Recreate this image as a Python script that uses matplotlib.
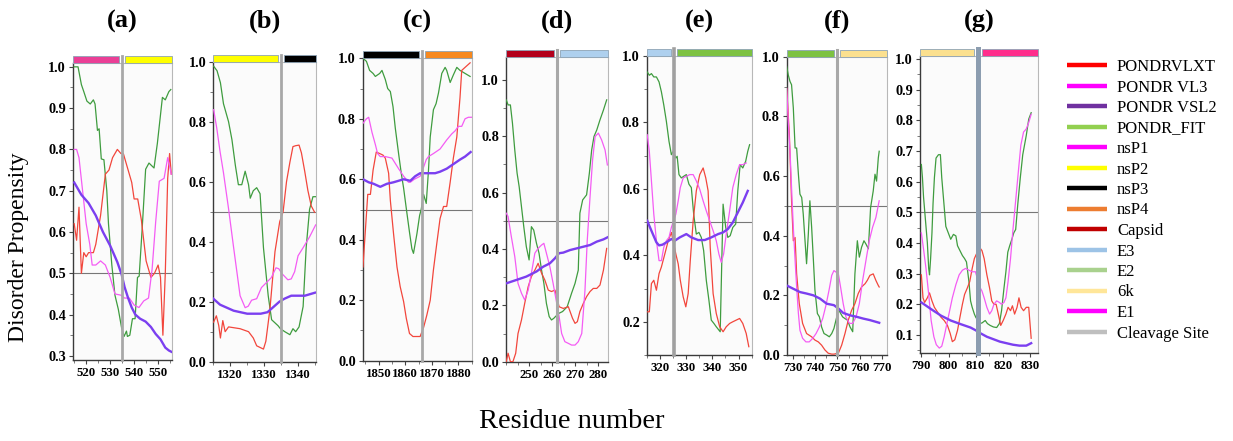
import matplotlib
matplotlib.use('Agg')
import matplotlib.pyplot as plt
from matplotlib.lines import Line2D
from matplotlib.patches import Rectangle
from matplotlib.ticker import MultipleLocator
from matplotlib.transforms import blended_transform_factory

plt.rcParams['font.family'] = ['Liberation Serif', 'DejaVu Serif']

# ---- data: (residue, disorder score) ----
# order inside each panel: PONDR_FIT, PONDR VLXT, PONDR VL3, PONDR VSL2

# (a) nsP1 / nsP2
A_FIT = [(515, 1.0), (516.6, 1.0), (518, 0.957), (519, 0.94), (520.3, 0.917), (521.7, 0.91), (523, 0.92),
         (523.7, 0.91), (524.7, 0.846), (525.4, 0.85), (526.3, 0.777), (527.4, 0.775), (528.6, 0.70),
         (529.3, 0.62), (530.7, 0.52), (532, 0.447), (533.4, 0.413), (534.8, 0.367), (535.8, 0.347),
         (536.8, 0.36), (537.2, 0.347), (538.2, 0.35), (539.3, 0.39), (540.4, 0.39), (541.4, 0.49),
         (542.1, 0.493), (543.4, 0.612), (544.8, 0.752), (546.2, 0.767), (548.3, 0.755), (549.7, 0.815),
         (551.8, 0.926), (553, 0.92), (554.5, 0.94), (555.3, 0.945)]
A_VLXT = [(515, 0.62), (516, 0.58), (517, 0.66), (518, 0.5), (519, 0.55), (520, 0.54), (521, 0.55), (523, 0.55),
          (524, 0.57), (526, 0.64), (528, 0.74), (529.5, 0.75), (531, 0.78), (533, 0.8), (534.5, 0.79),
          (535.5, 0.79), (537, 0.76), (539, 0.72), (540, 0.68), (541.5, 0.68), (543, 0.63), (545, 0.53),
          (547, 0.49), (548.5, 0.5), (550, 0.52), (551, 0.49), (552, 0.35), (553, 0.5), (554, 0.73),
          (554.8, 0.79), (555.5, 0.74)]
A_VL3 = [(515, 0.8), (516, 0.8), (517, 0.78), (518.5, 0.7), (520, 0.62), (521.5, 0.57), (522.5, 0.52), (524, 0.52),
         (526, 0.53), (528, 0.52), (530, 0.49), (532, 0.45), (534.5, 0.447), (536, 0.44), (538, 0.44),
         (540, 0.423), (542, 0.417), (544, 0.433), (546, 0.44), (547.5, 0.51), (549, 0.625), (550.5, 0.723),
         (552.5, 0.73), (554, 0.78), (555.5, 0.74)]
A_VSL2 = [(515, 0.72), (518, 0.69), (521, 0.67), (524, 0.64), (527, 0.6), (530, 0.567), (533, 0.527),
          (534.8, 0.497), (536, 0.467), (537.5, 0.44), (539, 0.417), (540.5, 0.4), (542.5, 0.39), (544.8, 0.383),
          (547, 0.37), (549, 0.353), (551, 0.34), (553, 0.32), (554.5, 0.313), (555.5, 0.31)]

# (b) nsP2 / nsP3
B_FIT = [(1315.1, 0.985), (1316.1, 0.97), (1317.1, 0.93), (1318, 0.86), (1319.5, 0.8), (1320.5, 0.74),
         (1321.5, 0.655), (1322.4, 0.59), (1323.4, 0.59), (1324.4, 0.635), (1325.4, 0.59), (1325.9, 0.545),
         (1326.8, 0.57), (1327.8, 0.58), (1328.8, 0.56), (1329.8, 0.38), (1331.2, 0.22), (1332.2, 0.14),
         (1334.1, 0.12), (1334.8, 0.11), (1336.1, 0.1), (1337.6, 0.09), (1338.5, 0.11), (1339.3, 0.1),
         (1340.3, 0.116), (1341.5, 0.184), (1342.4, 0.38), (1343.4, 0.508), (1344.4, 0.55), (1345.2, 0.55)]
B_VLXT = [(1315.1, 0.132), (1315.9, 0.153), (1316.6, 0.121), (1317.1, 0.079), (1317.8, 0.137), (1318.5, 0.1),
          (1319.5, 0.116), (1322.9, 0.11), (1325.4, 0.1), (1326.8, 0.079), (1327.8, 0.053), (1329.8, 0.042),
          (1330.5, 0.068), (1331.7, 0.174), (1333.2, 0.367), (1334.6, 0.467), (1335.6, 0.5), (1336.6, 0.6),
          (1337.6, 0.665), (1338.5, 0.717), (1339.3, 0.72), (1340.3, 0.722), (1341, 0.696), (1342, 0.633),
          (1342.9, 0.571), (1343.9, 0.519), (1344.9, 0.498)]
B_VL3 = [(1315.1, 0.84), (1316, 0.78), (1317, 0.70), (1318, 0.63), (1319.5, 0.51), (1321, 0.38), (1322.9, 0.22),
         (1324.4, 0.18), (1325.3, 0.185), (1326.3, 0.205), (1327.8, 0.21), (1329.2, 0.247), (1330.6, 0.263),
         (1332.1, 0.28), (1333.5, 0.313), (1334.3, 0.31), (1335.3, 0.293), (1337, 0.273), (1338, 0.276),
         (1339, 0.3), (1340, 0.353), (1341.5, 0.38), (1343.4, 0.416), (1345.2, 0.456)]
B_VSL2 = [(1315, 0.21), (1317, 0.19), (1319, 0.18), (1321, 0.17), (1323, 0.165), (1325, 0.16), (1327, 0.16),
          (1329, 0.16), (1331, 0.165), (1333, 0.185), (1334.5, 0.2), (1336, 0.21), (1338, 0.22), (1340, 0.22),
          (1342, 0.22), (1345, 0.23)]

# (c) nsP3 / nsP4
C_FIT = [(1844.1, 1.0), (1845.4, 0.99), (1846.6, 0.96), (1847.9, 0.95), (1848.75, 0.94), (1850.4, 0.95),
         (1851.25, 0.96), (1852.5, 0.93), (1853.4, 0.9), (1854.4, 0.89), (1855.4, 0.84), (1856.25, 0.77),
         (1857.5, 0.685), (1858.5, 0.62), (1859.4, 0.57), (1860.6, 0.49), (1861.6, 0.425), (1862.5, 0.37),
         (1863.1, 0.355), (1864.4, 0.42), (1865.4, 0.48), (1866, 0.5), (1866.9, 0.55), (1867.9, 0.52),
         (1868.75, 0.63), (1869.4, 0.74), (1870.6, 0.83), (1871.6, 0.85), (1872.5, 0.885), (1873.75, 0.95),
         (1875, 0.97), (1875.6, 0.96), (1876.9, 0.92), (1878.1, 0.945), (1879.4, 0.97), (1880.6, 0.96),
         (1882.5, 0.95), (1884.4, 0.94)]
C_VLXT = [(1844.1, 0.31), (1845, 0.43), (1845.9, 0.55), (1846.9, 0.55), (1847.9, 0.63), (1849.1, 0.69),
          (1850.4, 0.685), (1851.6, 0.68), (1852.5, 0.67), (1853.75, 0.62), (1854.4, 0.53), (1855.6, 0.42),
          (1856.9, 0.31), (1858.1, 0.245), (1859.4, 0.195), (1860.4, 0.14), (1861.6, 0.09), (1862.9, 0.08),
          (1863.75, 0.08), (1865.6, 0.08), (1866.9, 0.11), (1868.1, 0.15), (1869.4, 0.2), (1870.6, 0.3),
          (1871.9, 0.39), (1873.1, 0.47), (1874.4, 0.51), (1875.6, 0.51), (1876.9, 0.59), (1878.1, 0.67),
          (1879.4, 0.74), (1880.6, 0.87), (1881.25, 0.96), (1882.5, 0.97), (1884.4, 0.985)]
C_VL3 = [(1844.1, 0.785), (1845.4, 0.8), (1846.25, 0.805), (1847.5, 0.755), (1848.75, 0.715), (1849.6, 0.685),
         (1850.6, 0.675), (1852.5, 0.675), (1855, 0.67), (1857.5, 0.635), (1859.4, 0.61), (1861.25, 0.59),
         (1861.9, 0.59), (1863.4, 0.6), (1865.6, 0.61), (1866.9, 0.64), (1867.9, 0.665), (1868.75, 0.675),
         (1870.6, 0.685), (1873.1, 0.7), (1875.6, 0.73), (1877.5, 0.75), (1878.75, 0.76), (1880, 0.775),
         (1881.25, 0.775), (1882.5, 0.8), (1883.75, 0.805), (1885, 0.805)]
C_VSL2 = [(1844.1, 0.6), (1846.25, 0.59), (1848.1, 0.585), (1850.6, 0.575), (1853.1, 0.585), (1855.6, 0.59),
          (1857.5, 0.595), (1859.4, 0.6), (1861.9, 0.595), (1863.75, 0.61), (1865.6, 0.62), (1867.1, 0.62),
          (1869.1, 0.62), (1871.25, 0.62), (1873.1, 0.625), (1875.6, 0.635), (1878.1, 0.65), (1880.6, 0.665),
          (1882.5, 0.675), (1884.6, 0.69)]

# (d) Capsid / E3
D_FIT = [(240.1, 0.929), (240.9, 0.911), (241.9, 0.911), (242.8, 0.846), (243.8, 0.751), (244.8, 0.669),
         (245.7, 0.621), (246.7, 0.55), (247.7, 0.479), (248.8, 0.408), (250, 0.361), (251, 0.479),
         (252, 0.467), (253.2, 0.42), (254.3, 0.385), (255.4, 0.325), (256.4, 0.278), (257.5, 0.207),
         (258.7, 0.16), (259.7, 0.148), (260.7, 0.154), (261.4, 0.16), (263, 0.172), (264.5, 0.178),
         (266.5, 0.195), (268.4, 0.243), (269.9, 0.278), (271.3, 0.325), (272, 0.527), (273.2, 0.574),
         (274.9, 0.592), (276.1, 0.669), (277.1, 0.751), (278.1, 0.799), (279.3, 0.822), (280.7, 0.858),
         (282.2, 0.893), (283.6, 0.929)]
D_VLXT = [(240.1, 0.0), (240.9, 0.03), (241.9, 0.0), (243.0, 0.0), (244.2, 0.03), (245.2, 0.1), (246.7, 0.148),
          (248.1, 0.207), (249.6, 0.266), (251, 0.302), (252.5, 0.325), (253.9, 0.349), (255.4, 0.314),
          (256.8, 0.29), (258.3, 0.254), (259.7, 0.249), (261.2, 0.254), (263, 0.195), (264.8, 0.189),
          (267, 0.195), (268.8, 0.154), (269.9, 0.136), (270.9, 0.142), (272, 0.178), (273.5, 0.207),
          (274.9, 0.231), (276.4, 0.249), (277.8, 0.26), (279.3, 0.26), (280.7, 0.272), (282.2, 0.325),
          (283.6, 0.402)]
D_VL3 = [(240.1, 0.527), (240.9, 0.515), (242.3, 0.444), (243.8, 0.373), (245.2, 0.278), (246.7, 0.243),
         (248.1, 0.219), (249.6, 0.254), (251, 0.314), (252.5, 0.385), (253.9, 0.402), (255.4, 0.414),
         (256.4, 0.42), (257.5, 0.385), (259, 0.337), (260.4, 0.278), (263, 0.16), (264.1, 0.1), (265.5, 0.071),
         (267, 0.065), (268.4, 0.059), (269.9, 0.059), (271.3, 0.071), (272.8, 0.1), (274.2, 0.254),
         (275.2, 0.432), (276.4, 0.586), (277.5, 0.716), (278.6, 0.799), (280, 0.811), (281.4, 0.787),
         (282.9, 0.751), (283.9, 0.698)]
D_VSL2 = [(240.1, 0.278), (244.5, 0.29), (248.8, 0.302), (253.2, 0.32), (256.1, 0.337), (259, 0.349),
          (261.2, 0.367), (263, 0.385), (264.8, 0.387), (267.7, 0.396), (270.6, 0.402), (273.5, 0.408),
          (276.4, 0.414), (279.3, 0.426), (282.2, 0.434), (283.9, 0.441)]

# (e) E3 / E2
E_FIT = [(315.2, 0.952), (316.0, 0.942), (316.8, 0.947), (317.7, 0.937), (318.7, 0.937), (319.7, 0.922),
         (320.6, 0.892), (321.5, 0.853), (322.5, 0.803), (323.5, 0.743), (324.4, 0.703), (325.1, 0.713),
         (326.1, 0.693), (326.6, 0.698), (327.3, 0.643), (328.2, 0.633), (329.1, 0.638), (330.1, 0.643),
         (331.1, 0.614), (332, 0.604), (332.9, 0.524), (333.9, 0.464), (334.9, 0.469), (335.8, 0.454),
         (336.7, 0.414), (337.7, 0.325), (338.7, 0.265), (339.6, 0.205), (340.6, 0.195), (341.5, 0.185),
         (343, 0.17), (344.1, 0.554), (345.1, 0.484), (345.9, 0.454), (346.8, 0.459), (347.8, 0.484),
         (348.9, 0.494), (349.7, 0.594), (350.6, 0.673), (351.6, 0.663), (352.7, 0.683), (353.5, 0.713),
         (354.2, 0.733)]
E_VLXT = [(315.2, 0.23), (316.0, 0.23), (316.8, 0.315), (317.7, 0.325), (318.7, 0.295), (319.7, 0.345),
          (320.6, 0.365), (321.9, 0.404), (323.2, 0.444), (324.4, 0.469), (326.1, 0.404), (327, 0.374),
          (327.8, 0.325), (328.9, 0.275), (329.9, 0.245), (330.8, 0.285), (331.6, 0.384), (332.7, 0.504),
          (333.9, 0.594), (335.2, 0.643), (336.5, 0.663), (337.5, 0.633), (338.4, 0.594), (339.2, 0.424),
          (340.3, 0.285), (341.5, 0.225), (342.8, 0.185), (344.1, 0.17), (345.3, 0.185), (346.6, 0.195),
          (347.8, 0.2), (349.1, 0.205), (350.4, 0.21), (351.6, 0.195), (352.9, 0.165), (353.9, 0.125)]
E_VL3 = [(315.2, 0.763), (316, 0.713), (316.8, 0.624), (317.7, 0.524), (318.7, 0.444), (319.7, 0.384),
         (320.6, 0.384), (321.5, 0.424), (322.5, 0.444), (323.5, 0.454), (324.4, 0.484), (326.1, 0.524),
         (327, 0.564), (327.8, 0.604), (328.9, 0.633), (330.1, 0.638), (331.4, 0.643), (332.7, 0.643),
         (333.9, 0.624), (335.2, 0.599), (336.5, 0.564), (337.7, 0.534), (339, 0.504), (340.3, 0.474),
         (341.5, 0.444), (342.5, 0.404), (343.4, 0.379), (344.3, 0.404), (345.3, 0.464), (346.6, 0.534),
         (347.8, 0.604), (349.1, 0.643), (350.4, 0.673), (351.6, 0.673), (352.9, 0.678)]
E_VSL2 = [(315.2, 0.504), (316.8, 0.474), (318.7, 0.439), (319.7, 0.43), (321, 0.432), (322.5, 0.439),
          (324.4, 0.449), (325.7, 0.444), (327.6, 0.454), (330.1, 0.464), (332, 0.454), (334.6, 0.446),
          (337.1, 0.446), (339.6, 0.454), (342.2, 0.464), (344.1, 0.469), (345.9, 0.479), (347.8, 0.499),
          (349.7, 0.529), (351.6, 0.559), (353.5, 0.594)]

# (f) E2 / 6k
F_FIT = [(727, 0.967), (727.7, 0.939), (728.5, 0.917), (729.2, 0.906), (730, 0.828), (730.8, 0.694),
         (731.5, 0.694), (732.3, 0.606), (733, 0.539), (733.8, 0.528), (734.5, 0.472), (735.3, 0.383),
         (736, 0.306), (736.8, 0.406), (737.5, 0.517), (738.3, 0.428), (739.1, 0.317), (739.8, 0.217),
         (740.9, 0.139), (741.8, 0.128), (742.8, 0.094), (743.9, 0.072), (745.1, 0.067), (746.3, 0.061),
         (747.4, 0.072), (748.4, 0.089), (750.4, 0.15), (751.1, 0.144), (752.3, 0.128), (753.4, 0.122),
         (754.5, 0.117), (755.7, 0.094), (756.9, 0.078), (757.9, 0.272), (759, 0.383), (759.9, 0.328),
         (760.9, 0.361), (762, 0.383), (762.9, 0.372), (764, 0.356), (765, 0.494), (766.2, 0.55),
         (767, 0.606), (767.7, 0.583), (768.5, 0.661), (768.9, 0.683)]
F_VLXT = [(727, 0.894), (728.2, 0.739), (729.2, 0.517), (730, 0.383), (730.8, 0.394), (731.5, 0.272),
          (732.7, 0.172), (734.2, 0.106), (736, 0.072), (738.3, 0.061), (739.8, 0.05), (741.3, 0.044),
          (742.8, 0.033), (744.3, 0.017), (745.8, 0.006), (747.4, 0.003), (748.4, 0.003), (750.4, 0.006),
          (751.9, 0.033), (753.4, 0.072), (754.9, 0.117), (756.4, 0.15), (757.9, 0.172), (759.4, 0.206),
          (760.9, 0.228), (762.5, 0.239), (763.5, 0.25), (764.7, 0.267), (766.2, 0.272), (767.4, 0.25),
          (768.5, 0.233), (768.9, 0.228)]
F_VL3 = [(727, 0.894), (727.7, 0.783), (728.5, 0.683), (729.2, 0.561), (730, 0.428), (730.8, 0.317),
         (731.5, 0.228), (732.3, 0.139), (733, 0.083), (734.2, 0.056), (735.7, 0.044), (737.2, 0.044),
         (738.8, 0.056), (740.3, 0.072), (741.8, 0.094), (743.3, 0.122), (744.8, 0.167), (746.3, 0.222),
         (747.4, 0.267), (748.4, 0.283), (750.4, 0.272), (751.4, 0.228), (752.6, 0.172), (753.8, 0.128),
         (755.4, 0.106), (756.9, 0.106), (758.4, 0.128), (759.9, 0.172), (761.4, 0.25), (762.9, 0.317),
         (764.4, 0.383), (765.9, 0.428), (767.4, 0.461), (768.9, 0.517)]
F_VSL2 = [(727, 0.233), (730, 0.222), (733, 0.211), (736, 0.206), (739.1, 0.2), (742.1, 0.189), (745.1, 0.172),
          (748.4, 0.167), (750.4, 0.156), (752.6, 0.141), (755.7, 0.133), (758.7, 0.128), (761.7, 0.122),
          (764.7, 0.117), (768.9, 0.108)]

# (g) 6k / E1
G_FIT = [(790, 0.656), (790.4, 0.613), (790.8, 0.55), (791.4, 0.486), (792.2, 0.401), (792.7, 0.317),
         (793.0, 0.296), (793.4, 0.349), (793.9, 0.433), (794.3, 0.529), (794.8, 0.613), (795.4, 0.677),
         (796.3, 0.688), (797.0, 0.688), (797.5, 0.613), (798.2, 0.539), (799.0, 0.454), (799.9, 0.433),
         (800.8, 0.412), (801.8, 0.428), (802.7, 0.423), (803.3, 0.391), (804.2, 0.375), (805.1, 0.359),
         (805.9, 0.349), (806.6, 0.338), (807.5, 0.274), (808.1, 0.211), (808.7, 0.19), (809.5, 0.168),
         (810.0, 0.158), (811.4, 0.137), (812.3, 0.139), (813.5, 0.147), (814.3, 0.137), (815.3, 0.131),
         (816.5, 0.126), (817.7, 0.124), (818.7, 0.137), (819.5, 0.179), (820.4, 0.253), (821.1, 0.306),
         (821.8, 0.37), (822.5, 0.391), (823.3, 0.412), (824.0, 0.433), (824.7, 0.444), (825.5, 0.529),
         (826.4, 0.613), (827.3, 0.688), (828.6, 0.751), (829.5, 0.804), (830.4, 0.825)]
G_VLXT = [(790, 0.296), (790.6, 0.221), (791.2, 0.206), (792.2, 0.221), (793.0, 0.237), (793.9, 0.211),
          (794.8, 0.19), (796.0, 0.174), (797.2, 0.158), (798.4, 0.147), (799.6, 0.131), (800.6, 0.105),
          (801.4, 0.078), (802.3, 0.084), (803.3, 0.115), (804.2, 0.158), (805.1, 0.2), (805.9, 0.232),
          (806.9, 0.253), (807.8, 0.274), (808.7, 0.317), (809.5, 0.349), (810.0, 0.359), (811.4, 0.386),
          (812.3, 0.375), (813.1, 0.349), (814.1, 0.296), (815.1, 0.253), (815.9, 0.211), (816.7, 0.2),
          (817.5, 0.2), (818.3, 0.168), (819.2, 0.131), (820.1, 0.147), (821.1, 0.168), (821.9, 0.19),
          (822.8, 0.179), (823.5, 0.195), (824.3, 0.168), (825.2, 0.19), (825.9, 0.221), (826.7, 0.19),
          (827.6, 0.179), (828.6, 0.19), (829.5, 0.19), (830.4, 0.089)]
G_VL3 = [(790, 0.433), (790.8, 0.38), (791.7, 0.317), (792.7, 0.232), (793.6, 0.147), (794.6, 0.094),
         (795.5, 0.068), (796.6, 0.057), (797.5, 0.063), (798.4, 0.094), (799.4, 0.137), (800.4, 0.179),
         (801.4, 0.221), (802.7, 0.264), (803.9, 0.296), (805.1, 0.311), (806.3, 0.317), (807.5, 0.311),
         (808.7, 0.306), (809.9, 0.306), (811.4, 0.258), (812.3, 0.243), (813.1, 0.221), (814.1, 0.19),
         (815.1, 0.168), (815.9, 0.179), (816.7, 0.2), (817.7, 0.211), (818.7, 0.206), (819.5, 0.2),
         (820.4, 0.206), (821.1, 0.221), (821.9, 0.274), (822.8, 0.349), (823.7, 0.444), (824.7, 0.539),
         (825.7, 0.635), (826.6, 0.719), (827.6, 0.762), (828.6, 0.772), (829.5, 0.793), (830.4, 0.82)]
G_VSL2 = [(790, 0.206), (793.6, 0.184), (797.2, 0.163), (800.8, 0.147), (804.5, 0.135), (808.1, 0.124),
          (810.0, 0.115), (811.4, 0.107), (814.1, 0.094), (816.5, 0.086), (818.9, 0.078), (821.3, 0.073),
          (823.7, 0.068), (826.1, 0.065), (828.6, 0.065), (830.4, 0.073)]

A_XTICKS = [520, 530, 540, 550]
B_XTICKS = [1320, 1330, 1340]
C_XTICKS = [1850, 1860, 1870, 1880]
D_XTICKS = [250, 260, 270, 280]
E_XTICKS = [320, 330, 340, 350]
F_XTICKS = [730, 740, 750, 760, 770]
G_XTICKS = [790, 800, 810, 820, 830]

A_YTICKS = [0.3, 0.4, 0.5, 0.6, 0.7, 0.8, 0.9, 1.0]
B_YTICKS = [0.0, 0.2, 0.4, 0.6, 0.8, 1.0]
C_YTICKS = [0.0, 0.2, 0.4, 0.6, 0.8, 1.0]
D_YTICKS = [0.0, 0.2, 0.4, 0.6, 0.8, 1.0]
E_YTICKS = [0.2, 0.4, 0.6, 0.8, 1.0]
F_YTICKS = [0.0, 0.2, 0.4, 0.6, 0.8, 1.0]
G_YTICKS = [0.1, 0.2, 0.3, 0.4, 0.5, 0.6, 0.7, 0.8, 0.9, 1.0]

LEGEND_LABELS = ['PONDRVLXT', 'PONDR VL3', 'PONDR VSL2', 'PONDR_FIT', 'nsP1', 'nsP2', 'nsP3', 'nsP4',
                 'Capsid', 'E3', 'E2', '6k', 'E1', 'Cleavage Site']
LEGEND_COLORS = ['#ff0000', '#ff00ff', '#7030a0', '#92d050', '#ff00ff', '#ffff00', '#000000', '#ed7d31',
                 '#c00000', '#9dc3e6', '#a9d18e', '#ffe699', '#ff00ff', '#bfbfbf']

# line styles for FIT, VLXT, VL3, VSL2
SERIES_COLORS = ['#3f9c3f', '#f2463c', '#f45cf4', '#7b3ff0']
SERIES_WIDTHS = [0.9, 0.9, 0.9, 1.7]

W, H = 1233, 441
fig = plt.figure(figsize=(W / 100, H / 100), dpi=100)

# box = left, top, right, bottom in pixels
panels = [
    dict(tag='(a)', box=(73, 62.7, 172, 360), data=(A_FIT, A_VLXT, A_VL3, A_VSL2), xlim=(514.5, 555.8),
         ylim=(0.29, 1.01), xt=A_XTICKS, yt=A_YTICKS, ym=0.05, cut=535, bars=('#ea3f96', '#ffff00'),
         cut_c='#a8a8a8', cut_w=2.0),
    dict(tag='(b)', box=(213.3, 61.7, 316, 361.7), data=(B_FIT, B_VLXT, B_VL3, B_VSL2), xlim=(1315, 1345.3),
         ylim=(0, 1.0), xt=B_XTICKS, yt=B_YTICKS, ym=0.1, cut=1335, bars=('#ffff00', '#000000'),
         cut_c='#a8a8a8', cut_w=2.0),
    dict(tag='(c)', box=(362.7, 58.3, 471.7, 360.7), data=(C_FIT, C_VLXT, C_VL3, C_VSL2), xlim=(1844, 1885),
         ylim=(0, 1.0), xt=C_XTICKS, yt=C_YTICKS, ym=0.1, cut=1866.2, bars=('#000000', '#f7891f'),
         cut_c='#a8a8a8', cut_w=2.0),
    dict(tag='(d)', box=(506, 57.3, 608.3, 361.7), data=(D_FIT, D_VLXT, D_VL3, D_VSL2), xlim=(240, 284.3),
         ylim=(0, 1.08), xt=D_XTICKS, yt=D_YTICKS, ym=0.1, cut=262.2, bars=('#b3001b', '#aed0ee'),
         cut_c='#a8a8a8', cut_w=2.2),
    dict(tag='(e)', box=(646.7, 56, 751.7, 355), data=(E_FIT, E_VLXT, E_VL3, E_VSL2), xlim=(315, 355),
         ylim=(0.1, 1.0), xt=E_XTICKS, yt=E_YTICKS, ym=0.1, cut=325.4, bars=('#aed0ee', '#7dc242'),
         cut_c='#a0a0a0', cut_w=2.6),
    dict(tag='(f)', box=(786.7, 56.7, 886.7, 355), data=(F_FIT, F_VLXT, F_VL3, F_VSL2), xlim=(727, 772.3),
         ylim=(0, 1.0), xt=F_XTICKS, yt=F_YTICKS, ym=0.1, cut=749.6, bars=('#7dc242', '#fbe08f'),
         cut_c='#a8a8a8', cut_w=2.2),
    dict(tag='(g)', box=(920, 56, 1037.7, 353.3), data=(G_FIT, G_VLXT, G_VL3, G_VSL2), xlim=(789.5, 832.8),
         ylim=(0.04, 1.01), xt=G_XTICKS, yt=G_YTICKS, ym=0.05, cut=810.7, bars=('#fbe08f', '#ff2d8c'),
         cut_c='#8c9db0', cut_w=3.6),
]


def draw_panel(p):
    l, t, r, b = p['box']
    ax = fig.add_axes([l / W, 1 - b / H, (r - l) / W, (b - t) / H])
    ax.set_facecolor('#fbfbfb')
    for pts, col, lw in zip(p['data'], SERIES_COLORS, SERIES_WIDTHS):
        ax.plot([q[0] for q in pts], [q[1] for q in pts], color=col, lw=lw, zorder=3,
                solid_joinstyle='round')
    ax.axhline(0.5, color='#777777', lw=0.8, zorder=2)
    ax.set_xlim(*p['xlim'])
    ax.set_ylim(*p['ylim'])

    # domain bars above the frame and the cleavage site line
    x0, x1 = p['xlim']
    bh = 7 / (b - t)
    tr = blended_transform_factory(ax.transData, ax.transAxes)
    gap = (p['cut_w'] * 0.7 + 1.5) * (x1 - x0) / (r - l)
    ax.add_patch(Rectangle((x0, 1.0), p['cut'] - gap - x0, bh, transform=tr, facecolor=p['bars'][0],
                           edgecolor='#8ea3b5', lw=0.6, clip_on=False, zorder=5))
    ax.add_patch(Rectangle((p['cut'] + gap, 1.0), x1 - p['cut'] - gap, bh, transform=tr,
                           facecolor=p['bars'][1], edgecolor='#8ea3b5', lw=0.6, clip_on=False, zorder=5))
    ax.axvline(p['cut'], ymin=0, ymax=1 + bh, color=p['cut_c'], lw=p['cut_w'], clip_on=False, zorder=4)

    for s in ('top', 'right'):
        ax.spines[s].set_color('#b8b8b8')
        ax.spines[s].set_linewidth(0.8)
    for s in ('left', 'bottom'):
        ax.spines[s].set_color('#3a3a3a')
        ax.spines[s].set_linewidth(1.0)

    ax.set_xticks(p['xt'], labels=[str(v) for v in p['xt']], fontsize=9.3, fontweight='bold')
    ax.set_yticks(p['yt'], labels=['%.1f' % v for v in p['yt']], fontsize=10.3, fontweight='bold')
    ax.xaxis.set_minor_locator(MultipleLocator(5))
    ax.yaxis.set_minor_locator(MultipleLocator(p['ym']))
    ax.tick_params(which='major', direction='out', length=3, width=0.8, color='#444444', pad=2)
    ax.tick_params(which='minor', direction='out', length=2, width=0.6, color='#666666')

    fig.text((l + r) / 2 / W, 1 - 21 / H, p['tag'], ha='center', va='center', fontsize=19,
             fontweight='bold')
    return ax


for p in panels:
    draw_panel(p)

fig.text(19 / W, 1 - 247 / H, 'Disorder Propensity', rotation=90, ha='center', va='center', fontsize=17)
fig.text(572 / W, 1 - 421 / H, 'Residue number', ha='center', va='center', fontsize=20.5)

handles = [Line2D([], [], color=c, lw=3.2, solid_capstyle='butt') for c in LEGEND_COLORS]
fig.legend(handles, LEGEND_LABELS, loc='upper left', bbox_to_anchor=(1067 / W, 1 - 59 / H),
           frameon=False, fontsize=12, handlelength=2.4, handletextpad=0.6, labelspacing=0.27,
           borderaxespad=0, borderpad=0)

fig.savefig('out.png', dpi=100)
